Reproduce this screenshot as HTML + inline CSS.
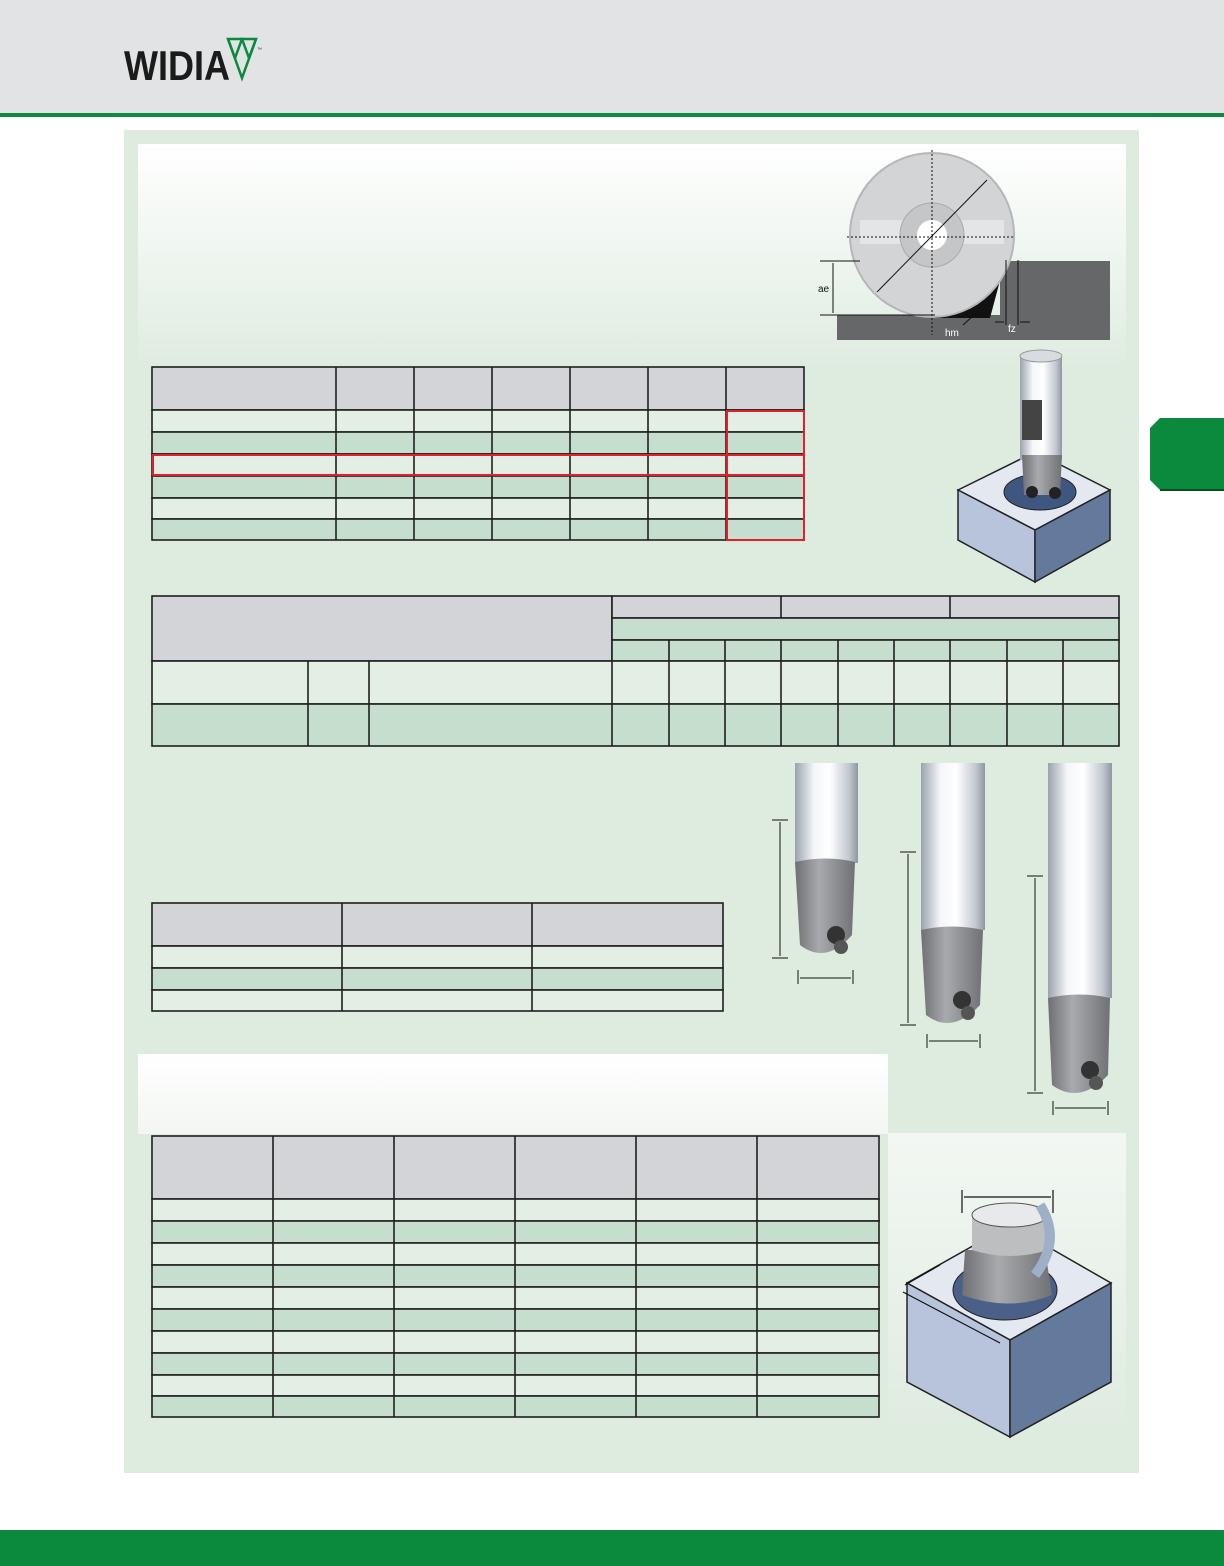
<!DOCTYPE html>
<html><head><meta charset="utf-8"><style>
html,body{margin:0;padding:0;background:#fff;}
svg{display:block;font-family:"Liberation Sans",sans-serif;}
</style></head><body>
<svg width="1224" height="1566" viewBox="0 0 1224 1566" xmlns="http://www.w3.org/2000/svg">
<defs>
<linearGradient id="wg" x1="0" y1="0" x2="0" y2="1"><stop offset="0" stop-color="#ffffff"/><stop offset="1" stop-color="#dfece1"/></linearGradient>
<linearGradient id="wg2" x1="0" y1="0" x2="0" y2="1"><stop offset="0" stop-color="#ffffff"/><stop offset="1" stop-color="#f3f6f3"/></linearGradient>
<linearGradient id="wg3" x1="0" y1="0" x2="0" y2="1"><stop offset="0" stop-color="#f3f7f3"/><stop offset="1" stop-color="#dfece1"/></linearGradient>
<linearGradient id="sh" x1="0" y1="0" x2="1" y2="0"><stop offset="0" stop-color="#9aa3ad"/><stop offset="0.3" stop-color="#f4f6f8"/><stop offset="0.55" stop-color="#ffffff"/><stop offset="0.85" stop-color="#c3c9d0"/><stop offset="1" stop-color="#8e97a2"/></linearGradient>
<linearGradient id="bd" x1="0" y1="0" x2="1" y2="0"><stop offset="0" stop-color="#6e6f72"/><stop offset="0.4" stop-color="#a9aaad"/><stop offset="1" stop-color="#707174"/></linearGradient>
</defs>
<rect x="0" y="0" width="1224" height="113" fill="#e2e3e5"/>
<rect x="0" y="113" width="1224" height="4" fill="#0b8a3e"/>
<text x="124" y="80" font-size="42" font-weight="bold" fill="#1b1b1b" textLength="106" lengthAdjust="spacingAndGlyphs">WIDIA</text>
<g fill="none" stroke="#0b8a3e" stroke-width="2.5"><path d="M228 39 L242 39 L235 58 Z"/><path d="M242 39 L256 39 L249 58 Z"/><path d="M228 39 L242 78 L256 39"/></g>
<text x="257" y="51" font-size="5" fill="#333">™</text>
<rect x="124" y="130" width="1015" height="1343" fill="#deebdf"/>
<rect x="138" y="144" width="988" height="220" fill="url(#wg)"/>
<rect x="138" y="1054" width="750" height="80" fill="url(#wg2)"/>
<rect x="888" y="1133" width="238" height="290" fill="url(#wg3)"/>
<path d="M1160 418 L1224 418 L1224 490 L1160 490 L1150 480 L1150 428 Z" fill="#0b8a3e"/>
<path d="M1160 490 L1224 490" stroke="#064d22" stroke-width="2"/>
<rect x="0" y="1530" width="1224" height="36" fill="#0b8a3e"/>

<g stroke="#1f1f1f" stroke-width="1.6">
<rect x="152" y="367" width="652" height="43" fill="#d2d4d7"/>
<rect x="152" y="410" width="652" height="22" fill="#e3efe5"/>
<rect x="152" y="432" width="652" height="22" fill="#c5dece"/>
<rect x="152" y="454" width="652" height="22" fill="#e3efe5"/>
<rect x="152" y="476" width="652" height="22" fill="#c5dece"/>
<rect x="152" y="498" width="652" height="21" fill="#e3efe5"/>
<rect x="152" y="519" width="652" height="21" fill="#c5dece"/>
<path d="M336 367V540M414 367V540M492 367V540M570 367V540M648 367V540M726 367V540" fill="none"/>
<rect x="152" y="596" width="460" height="65" fill="#d2d4d7"/>
<rect x="612" y="596" width="507" height="22" fill="#d2d4d7"/>
<rect x="612" y="618" width="507" height="22" fill="#c5dece"/>
<rect x="612" y="640" width="507" height="21" fill="#c5dece"/>
<rect x="152" y="661" width="967" height="43" fill="#e3efe5"/>
<rect x="152" y="704" width="967" height="42" fill="#c5dece"/>
<path d="M781 596V618M950 596V618M612 661V746M669 640V746M725 640V746M781 640V746M838 640V746M894 640V746M950 640V746M1007 640V746M1063 640V746M308 661V746M369 661V746" fill="none"/>
<rect x="152" y="903" width="571" height="43" fill="#d2d4d7"/>
<rect x="152" y="946" width="571" height="22" fill="#e3efe5"/>
<rect x="152" y="968" width="571" height="22" fill="#c5dece"/>
<rect x="152" y="990" width="571" height="21" fill="#e3efe5"/>
<path d="M342 903V1011M532 903V1011" fill="none"/>
<rect x="152" y="1136" width="727" height="63" fill="#d2d4d7"/>
<rect x="152" y="1199" width="727" height="22" fill="#e3efe5"/>
<rect x="152" y="1221" width="727" height="22" fill="#c5dece"/>
<rect x="152" y="1243" width="727" height="22" fill="#e3efe5"/>
<rect x="152" y="1265" width="727" height="22" fill="#c5dece"/>
<rect x="152" y="1287" width="727" height="22" fill="#e3efe5"/>
<rect x="152" y="1309" width="727" height="22" fill="#c5dece"/>
<rect x="152" y="1331" width="727" height="22" fill="#e3efe5"/>
<rect x="152" y="1353" width="727" height="22" fill="#c5dece"/>
<rect x="152" y="1375" width="727" height="21" fill="#e3efe5"/>
<rect x="152" y="1396" width="727" height="21" fill="#c5dece"/>
<path d="M273 1136V1417M394 1136V1417M515 1136V1417M636 1136V1417M757 1136V1417" fill="none"/>
</g>
<g fill="none" stroke="#e0202a" stroke-width="2">
<rect x="727" y="411" width="77" height="129"/>
<rect x="153" y="455" width="651" height="20"/>
</g>

<rect x="1000" y="261" width="110" height="79" fill="#666769"/>
<rect x="837" y="315" width="273" height="25" fill="#666769"/>
<path d="M1005 262 A82 82 0 0 1 932 318 L990 318 Z" fill="#111"/>
<circle cx="932" cy="235" r="82" fill="#d3d4d6" stroke="#b5b6b8" stroke-width="2"/>
<rect x="860" y="220" width="144" height="24" fill="#e4e5e6"/>
<circle cx="932" cy="235" r="32" fill="#c5c6c8" stroke="#aaa"/>
<circle cx="932" cy="235" r="15" fill="#fff"/>
<g stroke="#111" stroke-width="1" stroke-dasharray="2,2" fill="none"><path d="M932 150V335M847 237H1015"/></g>
<path d="M877 292 L987 180" stroke="#111" stroke-width="1"/>
<g stroke="#111" stroke-width="1" fill="none"><path d="M820 261H860M820 315H935M833 263V313M1006 260V325M1018 260V325M995 322H1004M1020 322H1030M963 325 L993 298"/></g>
<text x="818" y="292" font-size="10" fill="#111">ae</text>
<text x="945" y="336" font-size="10" fill="#fff">hm</text>
<text x="1008" y="332" font-size="10" fill="#fff">fz</text>

<path d="M958 490 L1035 452 L1110 490 L1035 530 Z" fill="#e4e8f0" stroke="#222" stroke-width="1.5"/>
<path d="M958 490 L1035 530 L1035 582 L958 540 Z" fill="#b8c3dc" stroke="#222" stroke-width="1.5"/>
<path d="M1035 530 L1110 490 L1110 540 L1035 582 Z" fill="#647a9c" stroke="#222" stroke-width="1.5"/>
<ellipse cx="1040" cy="492" rx="36" ry="18" fill="#3f5680" stroke="#222"/>
<rect x="1020" y="355" width="42" height="105" fill="url(#sh)"/>
<ellipse cx="1041" cy="356" rx="21" ry="6" fill="#d8dbdf" stroke="#999"/>
<rect x="1022" y="400" width="20" height="40" fill="#444"/>
<path d="M1022 455 L1062 455 L1060 495 L1024 495 Z" fill="url(#bd)"/>
<circle cx="1032" cy="492" r="6" fill="#222"/><circle cx="1055" cy="493" r="6" fill="#222"/>

<g>
<rect x="795" y="763" width="63" height="100" fill="url(#sh)"/>
<path d="M795 862 Q826 855 855 862 L852 935 Q826 965 800 945 Z" fill="url(#bd)"/>
<circle cx="836" cy="935" r="9" fill="#333"/><circle cx="841" cy="947" r="7" fill="#555"/>
<rect x="921" y="763" width="64" height="167" fill="url(#sh)"/>
<path d="M921 930 Q952 923 983 930 L980 1005 Q952 1035 926 1015 Z" fill="url(#bd)"/>
<circle cx="962" cy="1000" r="9" fill="#333"/><circle cx="968" cy="1013" r="7" fill="#555"/>
<rect x="1048" y="763" width="64" height="235" fill="url(#sh)"/>
<path d="M1048 998 Q1080 991 1110 998 L1108 1075 Q1080 1105 1052 1085 Z" fill="url(#bd)"/>
<circle cx="1090" cy="1070" r="9" fill="#333"/><circle cx="1096" cy="1083" r="7" fill="#555"/>
<g stroke="#111" stroke-width="1" fill="none">
<path d="M772 820H788M772 958H788M780 822V956M798 970V984M853 970V984M800 978H851"/>
<path d="M900 852H916M900 1025H916M908 854V1023M927 1034V1048M980 1034V1048M929 1041H978"/>
<path d="M1027 876H1043M1027 1093H1043M1035 878V1091M1053 1101V1115M1108 1101V1115M1055 1108H1106"/>
</g>
</g>

<path d="M907 1283 L1010 1225 L1111 1283 L1010 1340 Z" fill="#e4e8f0" stroke="#222" stroke-width="1.5"/>
<path d="M907 1283 L1010 1340 L1010 1437 L907 1382 Z" fill="#b8c3dc" stroke="#222" stroke-width="1.5"/>
<path d="M1010 1340 L1111 1283 L1111 1382 L1010 1437 Z" fill="#647a9c" stroke="#222" stroke-width="1.5"/>
<ellipse cx="1005" cy="1290" rx="52" ry="30" fill="#4a6088" stroke="#222"/>
<path d="M965 1250 L1045 1250 L1052 1295 Q1010 1312 962 1295 Z" fill="url(#bd)"/>
<path d="M972 1215 L1048 1215 L1048 1250 Q1010 1262 972 1250 Z" fill="#bdbec0"/>
<ellipse cx="1010" cy="1215" rx="38" ry="12" fill="#e8e9ea" stroke="#555"/>
<path d="M1040 1205 Q1062 1240 1035 1275" stroke="#9eb0c8" stroke-width="10" fill="none"/>
<g stroke="#111" stroke-width="1.2" fill="none"><path d="M962 1190V1213M1053 1190V1213M964 1197H1051M903 1292 L1000 1343M905 1285 L940 1265"/></g>
</svg>
</body></html>
